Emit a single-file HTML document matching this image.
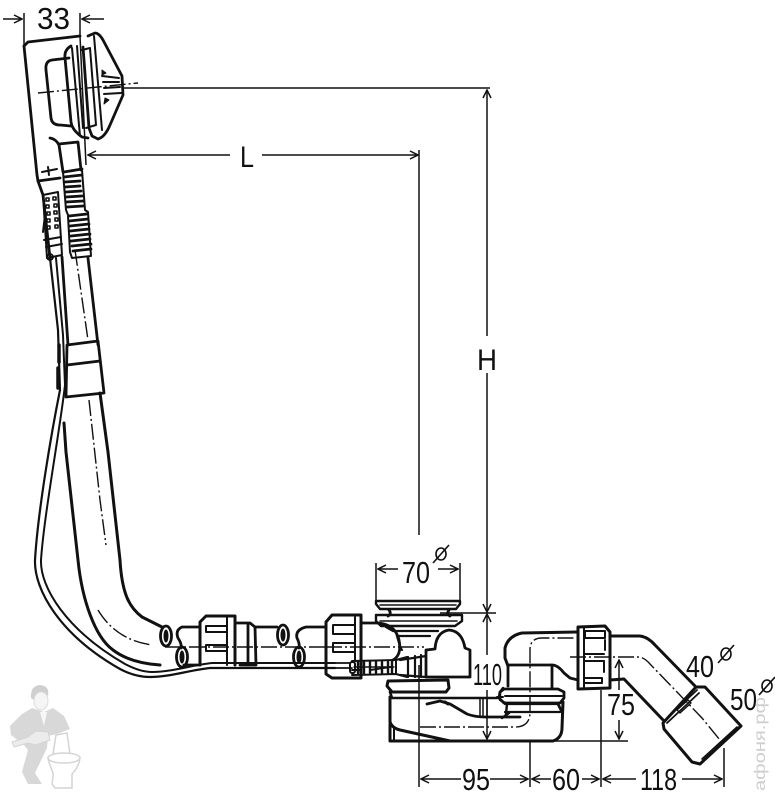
<!DOCTYPE html>
<html><head><meta charset="utf-8">
<style>
html,body{margin:0;padding:0;background:#fff}
svg{display:block}
text{font-family:"Liberation Sans",sans-serif;fill:#111}
</style></head>
<body>
<svg width="775" height="800" viewBox="0 0 775 800" xmlns="http://www.w3.org/2000/svg">
<defs>
<marker id="a" viewBox="0 0 12 10" refX="11" refY="5" markerWidth="12" markerHeight="10" markerUnits="userSpaceOnUse" orient="auto-start-reverse">
<path d="M3 1 L11 5 L3 9" fill="none" stroke="#111" stroke-width="1.5"/>
</marker>
</defs>

<!-- plumber watermark -->
<g fill="#d8d8d8" stroke="none">
<path d="M32 708 L22 714 L10 726 L11 735 L24 745 L28 750 L23 768 L22 772 L28 784 L42 784 L35 773 L47 748 L48 736 L57 734 L70 729 L64 716 L53 708 L44 712 Z"/>
<path d="M31 698 Q30 686 40 685 Q50 686 48 696 L44 692 L36 694 L34 700 Z" fill="#cfcfcf"/>
</g>
<ellipse cx="41" cy="701" rx="7" ry="9" fill="#f5f5f5" stroke="#dcdcdc" stroke-width="1"/>
<path d="M40 712 L47 712 L44 726 Z" fill="#f7f7f7"/>
<path d="M12 742 L28 737 L36 731 L48 732 L50 740 L36 745 L28 743 L14 747 Z" fill="#ececec" stroke="#d4d4d4" stroke-width="1"/>
<g fill="#fff" stroke="#d4d4d4" stroke-width="1.5">
<path d="M56 735 L67 733 L70 754 L53 754 Z"/>
<path d="M48 758 C50 768 54 772 53 777 L52 784 L55 788 L72 788 L72 774 C76 770 79 765 80 758 Z"/>
<ellipse cx="64" cy="758" rx="16" ry="5"/>
</g>

<!-- watermark text -->
<text transform="translate(765,791) rotate(-90)" font-size="16" textLength="94" lengthAdjust="spacingAndGlyphs" style="fill:#cecece">афоня.рф</text>

<g fill="none" stroke="#111" stroke-width="2.8" stroke-linejoin="round" stroke-linecap="round">
<!-- top body -->
<path d="M24 46 L28 42 L80 36"/>
<path d="M24 46 L37 175 L38 181 L43 195 L50 258"/>
<path d="M38 181 L60 178"/>
<path d="M42 172 L57 169 M48 167 L49 175" stroke-width="2"/>
<path d="M69 58 L52 60 Q45 61 46 70 L51 118 Q52 125 60 125 L71 126"/>
<path d="M71 46 Q64 50 65 58 L71 122 Q72 130 82 137 L88 138"/>
<path d="M72 48 L80 136 M77 46 L83 128" stroke-width="2"/>
<path d="M82 50 L90 48 L96 125 L86 128" stroke-width="2"/>
<path d="M88 36 L95 33 Q99 33 103 40 L122 76 L123 95 L110 125 Q105 137 98 139 L92 136 L89 128 L83 47"/>
<path d="M94 36 L102 130" stroke-width="2"/>
<path d="M102 76 L119 78 M103 82 L119 82 M104 88 L120 87 M104 94 L121 93" stroke-width="2"/>
<path d="M102 70 L106 73 L102 75 Z M105 98 L104 104 L109 100Z" fill="#111" stroke-width="1"/>
<path d="M50 138 Q56 139 59 145 L63 172"/>
<path d="M59 144 L78 142 L81 170"/>

<!-- right corrugation -->
<path d="M64 172 L82 169 M64 177 L82 175 M65 182 L80 181 M65 187 L80 186 M66 192 L81 191 M66 197 L82 196 M66 202 L83 201 M67 207 L83 206 M69 216 L87 214 M69 221 L88 219 M70 226 L89 224 M70 231 L89 229 M71 236 L90 234 M71 241 L90 239 M72 246 L91 244 M73 251 L91 249"/>
<path d="M82 170 L85 210 L88 212 L91 256 L72 258 L70 252 L68 216" stroke-width="2"/>
<path d="M63 172 L66 210 M68 215 L66 210" stroke-width="2"/>
<!-- left connector -->
<path d="M43 195 L58 192 L62 255 L47 258 Z" stroke-width="2"/>
<path d="M46 198 h3v3h-3z M53 197 h3v3h-3z M46 205 h3v3h-3z M54 204 h3v3h-3z M47 212 h3v3h-3z M54 211 h3v3h-3z M47 219 h3v3h-3z M55 218 h3v3h-3z M47 226 h3v3h-3z M55 225 h3v3h-3z" stroke-width="1.6"/>
<path d="M45 215 L43 232 M44 240 L61 237 M46 247 L62 244" stroke-width="2"/>
<circle cx="50" cy="257" r="3" stroke-width="1.8"/>

<!-- main tube -->
<path d="M62 257 L68 345"/>
<path d="M88 258 L98 345"/>
<path d="M67 345 L98 341 L104 393 L66 397 Z"/>
<path d="M67 365 L100 361"/>
<path d="M64 423 L66 452 L78 560 C82 600 95 637 113 650 Q130 663 160 665" stroke-width="3"/>
<path d="M100 393 L108 452 L120 560 C122 595 130 608 142 617 L162 627" stroke-width="3"/>
<!-- hose -->
<path d="M50 258 L58 330 L60 390 C52 430 38 510 35 560 C34 590 60 635 120 669 Q135 677 150 677 C170 677 190 670 210 668 L335 668" stroke-width="2.2"/>
<path d="M56 258 L63 335 L65 385 C60 430 44 515 41 560 C40 587 66 630 125 664 Q140 672 152 672 C172 672 192 665 212 663 L335 663" stroke-width="2"/>
<path d="M59 345 L59 362 M58 368 L58 388" stroke-width="3.5"/>

<!-- cut ends -->
<ellipse cx="166" cy="636" rx="5.5" ry="10"/>
<ellipse cx="182" cy="657" rx="5.5" ry="10"/>
<ellipse cx="283" cy="635" rx="5.5" ry="10"/>
<ellipse cx="299" cy="657" rx="5.5" ry="10"/>
<ellipse cx="166" cy="636" rx="2.5" ry="6.5" fill="#111" stroke="none"/>
<ellipse cx="182" cy="657" rx="2.5" ry="6.5" fill="#111" stroke="none"/>
<ellipse cx="283" cy="635" rx="2.5" ry="6.5" fill="#111" stroke="none"/>
<ellipse cx="299" cy="657" rx="2.5" ry="6.5" fill="#111" stroke="none"/>
<path d="M200 627 L182 627 Q175 630 178 638 Q182 644 181 648"/>
<path d="M184 665 L200 665"/>
<path d="M255 627 L277 627"/>
<path d="M326 627 L306 627 Q295 630 297 638 Q300 644 299 648"/>
<path d="M240 665 L255 665"/>

<!-- nut 1 -->
<path d="M200 665 L200 622 L206 616 L235 616 L235 665" stroke-width="3"/>
<path d="M227 617 L227 665" stroke-width="2"/>
<path d="M206 626 L227 626 L227 632 L206 632 Z M206 645 L227 645 L227 651 L206 651 Z" stroke-width="2"/>
<path d="M235 623 L250 623 L255 627 L256 665 M248 623 L248 665"/>
<!-- nut 2 -->
<path d="M326 627 L326 622 L332 615 L361 615 L361 678 L332 678 L326 674 L326 627 Z" stroke-width="3"/>
<path d="M355 617 L355 660" stroke-width="2"/>
<path d="M333 625 L355 625 L355 634 L333 634 Z M333 643 L355 643 L355 652 L333 652 Z" stroke-width="2"/>
<!-- stub to drain -->
<path d="M361 623 L375 623 Q395 623 399 640 Q402 655 393 660"/>
<path d="M390 667 L370 670 M361 670 L352 670" stroke-width="2"/>

<!-- waste grate -->
<path d="M376 601 L460 601 L460 604 L456 609 L380 609 L376 604 Z" stroke-width="2.4"/>
<path d="M380 605 L456 605" stroke-width="1.6"/>
<path d="M389 610 Q392 614 388 616 M449 610 Q446 614 450 616"/>
<path d="M376 615 L462 615 L462 621 L455 626 L381 626 L376 621 Z" stroke-width="2.4"/>
<path d="M380 621 L457 621" stroke-width="1.6"/>
<path d="M386 627 L393 631 L438 631 M398 636 L430 636 M396 632 Q400 648 402 650" stroke-width="2.2"/>

<!-- knob box -->
<path d="M426 677 L426 650 L435 649 Q436 632 449 630 Q462 631 465 648 L470 650 L470 677 Z" fill="#fff" stroke-width="2.8"/>
<path d="M400 660 L426 656 M400 675 L426 677 M408 657 L408 677 M415 656 L415 677 M421 655 L421 677" stroke-width="2.2"/>
<!-- spring -->
<path d="M352 661 L396 660 L407 657 M352 675 L396 674 L407 677" stroke-width="2"/>
<path d="M396 660 L396 674" stroke-width="2"/>
<rect x="350" y="662" width="5" height="11" rx="2" stroke-width="2"/>
<path d="M358 662 v11 M364 662 v11 M370 662 v11 M376 662 v11 M382 662 v11 M388 662 v11 M392 662 v11" stroke-width="2.4"/>
<path d="M354 667 h40" stroke="#111" stroke-width="1.4"/>
<path d="M335 668 L352 668 M335 663 L350 663" stroke-width="1.8"/>

<!-- lower trap -->
<path d="M388 681 L448 680 L449 688 L446 692 L392 692 L387 686 Z" stroke-width="3"/>
<path d="M390 692 L392 698 L497 698" stroke-width="2.6"/>
<path d="M390 697 L390 722 Q392 728 400 730 L450 741" stroke-width="3"/>
<path d="M390 724 L390 741 L553 741 Q562 738 562 728 L563 702" stroke-width="3"/>
<path d="M394 728 L394 741" stroke-width="2"/>
<path d="M427 704 L440 701 L450 704 L467 714 Q475 717 485 717 L520 717" stroke-width="2.8"/>
<path d="M445 702 L448 704" stroke-width="3"/>
<path d="M480 699 L480 716 M483 699 L483 716 M487 699 L487 716" stroke-width="1.5"/>
<path d="M503 697 L497 697" stroke-width="2"/>
<path d="M503 688 L500 692 L500 700 L507 704 L506 714 M502 718 L509 713" stroke-width="2.4"/>

<!-- right collar -->
<path d="M508 666 L508 686 M504 689 L558 689 L564 692 L564 698 L560 703 L504 703 L499 698 L500 692 L504 689"/>
<path d="M505 696 L562 696" stroke-width="2"/>
<path d="M505 704 L558 704 M505 712 L560 712" stroke-width="2.2"/>
<path d="M558 704 L562 712"/>
<!-- elbow -->
<path d="M508 666 L505 658 L505 648 Q508 636 522 633 L577 632" stroke-width="3"/>
<path d="M508 665 L552 665 Q558 665 564 673 L570 678 L578 680"/>
<path d="M552 665 L552 688"/>
<!-- nut right -->
<path d="M578 627 L605 626 L610 632 L610 688 L578 689 Z" stroke-width="3"/>
<path d="M584 628 L584 688" stroke-width="2"/>
<path d="M585 631 L605 631 L605 638 L585 638 Z M585 661 L604 661 M585 654 L604 654 M585 678 L602 678 L602 683 L585 683" stroke-width="2"/>
<path d="M605 640 L605 650 M604 661 L604 672" stroke-width="2"/>
<!-- angled pipe -->
<path d="M610 636 L640 636 Q648 637 655 645 L695 686" stroke-width="3"/>
<path d="M610 680 L624 679 L665 722" stroke-width="3"/>
<!-- reducer -->
<path d="M696 687 L705 687 L741 726 L700 764 L692 762 L664 729 L663 723 Z" fill="#fff" stroke-width="3"/>
<path d="M666 719 L697 690 M667 723 L699 693" stroke-width="1.8"/>
<path d="M702 759 L737 727" stroke-width="1.6"/>
<path d="M688 700 L677 710 L680 713 L691 703 Z" stroke-width="1.4"/>
</g>

<!-- centre lines -->
<g fill="none" stroke="#111" stroke-width="1.4" stroke-dasharray="16 3 2 3">
<path d="M38 93 L138 83"/>
<path d="M75 250 L88 340 M89 400 L100 500 L106 545"/>
<path d="M98 610 Q116 640 152 645"/>
<path d="M165 647 L326 647 M326 647 L424 647"/>
<path d="M420 727 L515 727 Q530 727 530 712 L530 650 Q530 638 542 638 L575 638"/>
<path d="M570 657 L638 657 Q644 657 650 664 L702 718 L724 745"/>
</g>

<!-- dimension lines -->
<g fill="none" stroke="#111" stroke-width="1.5">
<path d="M24 13 L24 46 M80 13 L80 36 L86 165"/>
<path d="M3 19 L22 19" marker-end="url(#a)"/>
<path d="M104 19 L82 19" marker-end="url(#a)"/>
<path d="M123 88 L490 88"/>
<path d="M230 155 L88 155" marker-end="url(#a)"/>
<path d="M262 155 L418 155" marker-end="url(#a)"/>
<path d="M419 150 L419 535 M419 665 L419 787"/>
<path d="M487 336 L487 90" marker-end="url(#a)"/>
<path d="M487 373 L487 612" marker-end="url(#a)"/>
<path d="M487 614 L487 655" marker-start="url(#a)"/>
<path d="M487 690 L487 739" marker-end="url(#a)"/>
<path d="M440 613 L496 613"/>
<path d="M376 563 L376 600 M460 563 L460 600"/>
<path d="M398 569 L378 569" marker-end="url(#a)"/>
<path d="M438 569 L458 569" marker-end="url(#a)"/>
<path d="M553 741 L628 741"/>
<path d="M619 690 L619 660" marker-end="url(#a)"/>
<path d="M619 720 L619 739" marker-end="url(#a)"/>
<path d="M530 740 L530 787 M601 690 L601 787 M724 748 L724 787"/>
<path d="M461 779 L421 779" marker-end="url(#a)"/>
<path d="M490 779 L528 779" marker-end="url(#a)"/>
<path d="M551 779 L532 779" marker-end="url(#a)"/>
<path d="M582 779 L599 779" marker-end="url(#a)"/>
<path d="M636 779 L603 779" marker-end="url(#a)"/>
<path d="M682 779 L722 779" marker-end="url(#a)"/>
</g>

<!-- labels -->
<g font-size="31">
<text x="37" y="29" textLength="33" lengthAdjust="spacingAndGlyphs">33</text>
<text x="240" y="167" font-size="30" textLength="14" lengthAdjust="spacingAndGlyphs">L</text>
<text x="477" y="370" font-size="30" textLength="20" lengthAdjust="spacingAndGlyphs">H</text>
<text x="402" y="583" textLength="28" lengthAdjust="spacingAndGlyphs">70</text>
<text x="473" y="685" textLength="29" lengthAdjust="spacingAndGlyphs">110</text>
<text x="607" y="715" textLength="28" lengthAdjust="spacingAndGlyphs">75</text>
<text x="462" y="790" textLength="28" lengthAdjust="spacingAndGlyphs">95</text>
<text x="552" y="790" textLength="28" lengthAdjust="spacingAndGlyphs">60</text>
<text x="640" y="790" textLength="37" lengthAdjust="spacingAndGlyphs">118</text>
<text x="686" y="677" textLength="28" lengthAdjust="spacingAndGlyphs">40</text>
<text x="730" y="710" textLength="27" lengthAdjust="spacingAndGlyphs">50</text>
</g>
<!-- diameter symbols -->
<g fill="none" stroke="#111" stroke-width="1.6">
<ellipse cx="441" cy="554" rx="5" ry="6"/><path d="M433 563 L449 545"/>
<ellipse cx="726" cy="654" rx="5" ry="6"/><path d="M718 663 L734 645"/>
<ellipse cx="767" cy="686" rx="5" ry="6"/><path d="M759 695 L775 677"/>
</g>
</svg>
</body></html>
